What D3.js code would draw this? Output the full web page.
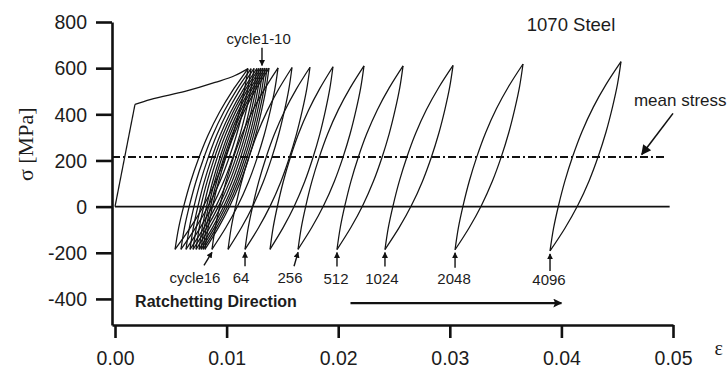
<!DOCTYPE html>
<html>
<head>
<meta charset="utf-8">
<script src="https://cdn.jsdelivr.net/npm/d3@7"></script>
<style>
  body { margin: 0; background: #fff; }
  svg { display: block; }
  text { font-family: "Liberation Sans", Arial, sans-serif; fill: #1c1c1c; }
</style>
</head>
<body>
<svg id="chart" width="727" height="370"></svg>
<script>
// Recorded cycles of the strain-ratchetting test (1070 steel)
const cycles = [1, 2, 3, 4, 5, 6, 7, 8, 9, 10, 16, 32, 64, 128, 256, 512, 1024, 2048, 4096];
// Upper tip of each hysteresis loop
const peakStrain = [0.01192, 0.01219, 0.01246, 0.01272, 0.01290, 0.01308, 0.01326, 0.01344, 0.01362, 0.01380,
                    0.01461, 0.01586, 0.01747, 0.01953, 0.02231, 0.02581, 0.03029, 0.03656, 0.04534];
const peakStress = [598, 598, 599, 599, 599, 600, 600, 600, 600, 600, 601, 603, 604, 606, 610, 610, 612, 618, 628];
// Lower tip of each hysteresis loop
const valleyStrain = [0.00538, 0.00591, 0.00636, 0.00672, 0.00699, 0.00726, 0.00753, 0.00771, 0.00789, 0.00806,
                      0.00869, 0.01013, 0.01165, 0.01389, 0.01640, 0.01989, 0.02419, 0.03047, 0.03898];
const valleyStress = [-185, -185, -185, -185, -185, -185, -185, -185, -185, -185,
                      -185, -185, -185, -185, -185, -186, -186, -187, -192];
// Monotonic first loading: elastic line up to the knee, then hardening up to the first peak
const firstLoadStrain = [0, 0.00179, 0.00314, 0.00627, 0.00896, 0.01075, 0.01192];
const firstLoadStress = [0, 443, 464, 499, 538, 568, 598];
// Shape of a loop branch: share of loop width covered vs share of stress range
const branchStressFrac = [0, 0.12, 0.24, 0.37, 0.50, 0.63, 0.76, 0.88, 1];
const branchStrainFrac = [0, 0.05, 0.12, 0.21, 0.32, 0.45, 0.61, 0.79, 1];
const meanStress = 215;
// Axes
const xTicks = [0, 0.01, 0.02, 0.03, 0.04, 0.05];
const yTicks = [-400, -200, 0, 200, 400, 600, 800];
// Cycle annotations below the loops
const labeledCycles = [16, 64, 256, 512, 1024, 2048, 4096];
const cycleLabelText = ["cycle16", "64", "256", "512", "1024", "2048", "4096"];

const svg = d3.select("#chart");
const x = d3.scaleLinear().domain([-0.00027, 0.05]).range([112, 673]);
const y = d3.scaleLinear().domain([-513, 800]).range([325, 22]);

// arrow heads
const defs = svg.append("defs");
defs.append("marker").attr("id", "head").attr("viewBox", "0 0 10 10")
  .attr("refX", 9).attr("refY", 5).attr("markerWidth", 6).attr("markerHeight", 6)
  .attr("markerUnits", "userSpaceOnUse").attr("orient", "auto")
  .append("path").attr("d", "M0,0 L10,5 L0,10 z").attr("fill", "#111");
defs.append("marker").attr("id", "headBig").attr("viewBox", "0 0 10 10")
  .attr("refX", 9).attr("refY", 5).attr("markerWidth", 16).attr("markerHeight", 9)
  .attr("markerUnits", "userSpaceOnUse").attr("orient", "auto")
  .append("path").attr("d", "M0,0 L10,5 L0,10 L2,5 z").attr("fill", "#111");
defs.append("marker").attr("id", "headMid").attr("viewBox", "0 0 10 10")
  .attr("refX", 9).attr("refY", 5).attr("markerWidth", 12).attr("markerHeight", 10)
  .attr("markerUnits", "userSpaceOnUse").attr("orient", "auto")
  .append("path").attr("d", "M0,0 L10,5 L0,10 z").attr("fill", "#111");

// zero-stress line
svg.append("line")
  .attr("x1", x(0)).attr("x2", x(0.0497))
  .attr("y1", y(0)).attr("y2", y(0))
  .attr("stroke", "#111").attr("stroke-width", 1.8);

// mean stress line
svg.append("line")
  .attr("x1", x(-0.00027)).attr("x2", x(0.0493))
  .attr("y1", y(meanStress)).attr("y2", y(meanStress))
  .attr("stroke", "#111").attr("stroke-width", 2)
  .attr("stroke-dasharray", "8,3,2,3");

// loops
const branchLine = d3.line().x(d => x(d[0])).y(d => y(d[1])).curve(d3.curveCatmullRom.alpha(0.5));
const loops = svg.append("g").attr("fill", "none").attr("stroke", "#141414").attr("stroke-width", 1.25);
cycles.forEach((c, i) => {
  const w = peakStrain[i] - valleyStrain[i];
  const h = peakStress[i] - valleyStress[i];
  const loading = branchStressFrac.map((u, k) =>
    [valleyStrain[i] + w * branchStrainFrac[k], valleyStress[i] + h * u]);
  const unloading = branchStressFrac.map((v, k) =>
    [peakStrain[i] - w * branchStrainFrac[k], peakStress[i] - h * v]);
  loops.append("path").attr("d", branchLine(loading));
  loops.append("path").attr("d", branchLine(unloading));
});

// first loading: straight elastic part, smooth hardening part
const firstLoad = firstLoadStrain.map((e, i) => [e, firstLoadStress[i]]);
svg.append("path")
  .attr("d", d3.line().x(d => x(d[0])).y(d => y(d[1]))(firstLoad.slice(0, 2)))
  .attr("fill", "none").attr("stroke", "#141414").attr("stroke-width", 1.25);
svg.append("path")
  .attr("d", d3.line().x(d => x(d[0])).y(d => y(d[1])).curve(d3.curveMonotoneX)(firstLoad.slice(1)))
  .attr("fill", "none").attr("stroke", "#141414").attr("stroke-width", 1.25);

// axes
const yAxis = svg.append("g").attr("transform", `translate(${x(-0.00027)},0)`)
  .call(d3.axisLeft(y).tickValues(yTicks).tickSize(16).tickSizeOuter(0).tickPadding(9).tickFormat(d => String(d)));
const xAxis = svg.append("g").attr("transform", `translate(0,${y(-513)})`)
  .call(d3.axisBottom(x).tickValues(xTicks).tickSize(13).tickSizeOuter(0).tickPadding(13).tickFormat(d3.format(".2f")));
[xAxis, yAxis].forEach(g => {
  g.select(".domain").attr("stroke", "#111").attr("stroke-width", 2.6);
  g.selectAll(".tick line").attr("stroke", "#111").attr("stroke-width", 2.6);
  g.selectAll(".tick text").attr("font-family", "\"Liberation Sans\", Arial, sans-serif")
    .attr("font-size", 19.5).attr("fill", "#222");
});
yAxis.selectAll(".tick text").attr("dy", "0.35em");

// axis titles
svg.append("text")
  .attr("transform", `translate(33,${y(270)}) rotate(-90)`)
  .attr("text-anchor", "middle")
  .style("font-family", "\"Liberation Serif\", \"Times New Roman\", serif")
  .attr("font-size", 22)
  .text("σ  [MPa]");
svg.append("text")
  .attr("x", x(0.0541)).attr("y", y(-642))
  .attr("text-anchor", "middle")
  .style("font-family", "\"Liberation Serif\", \"Times New Roman\", serif")
  .attr("font-size", 20)
  .text("ε");

// title
svg.append("text").attr("x", x(0.0369)).attr("y", y(762))
  .attr("font-size", 18.5).text("1070 Steel");

// mean stress annotation
svg.append("text").attr("x", x(0.0465)).attr("y", y(436))
  .attr("font-size", 17).text("mean stress");
svg.append("line")
  .attr("x1", x(0.0500)).attr("y1", y(404))
  .attr("x2", x(0.0472)).attr("y2", y(226))
  .attr("stroke", "#111").attr("stroke-width", 1.6)
  .attr("marker-end", "url(#headMid)");

// cycle 1-10 annotation
svg.append("text").attr("x", x(0.0100)).attr("y", y(705))
  .attr("font-size", 15).text("cycle1-10");
svg.append("line")
  .attr("x1", x(0.01317)).attr("y1", y(688))
  .attr("x2", x(0.01317)).attr("y2", y(612))
  .attr("stroke", "#111").attr("stroke-width", 1.4)
  .attr("marker-end", "url(#head)");

// cycle labels with arrows pointing at the loop valleys
const labelLayout = [
  { tx: -17, ax: -8, ay: 12 }, { tx: -4, ax: 0, ay: 13 }, { tx: -8, ax: -4, ay: 13 },
  { tx: -1, ax: 0, ay: 13 }, { tx: -3, ax: 0, ay: 13 }, { tx: -1, ax: 0, ay: 14 }, { tx: -1, ax: 0, ay: 16 }
];
labeledCycles.forEach((c, j) => {
  const i = cycles.indexOf(c);
  const vx = x(valleyStrain[i]), vy = y(valleyStress[i]);
  const L = labelLayout[j];
  svg.append("line")
    .attr("x1", vx + L.ax).attr("y1", vy + 4 + L.ay)
    .attr("x2", vx).attr("y2", vy + 3)
    .attr("stroke", "#111").attr("stroke-width", 1.4)
    .attr("marker-end", "url(#head)");
  svg.append("text").attr("x", vx + L.tx).attr("y", vy + 34)
    .attr("text-anchor", "middle").attr("font-size", 15)
    .text(cycleLabelText[j]);
});

// ratchetting direction
svg.append("text").attr("x", x(0.0018)).attr("y", y(-435))
  .attr("font-size", 16).attr("font-weight", "bold").text("Ratchetting Direction");
svg.append("line")
  .attr("x1", x(0.0211)).attr("x2", x(0.0400))
  .attr("y1", y(-418)).attr("y2", y(-418))
  .attr("stroke", "#111").attr("stroke-width", 2.4)
  .attr("marker-end", "url(#headBig)");
</script>
</body>
</html>
